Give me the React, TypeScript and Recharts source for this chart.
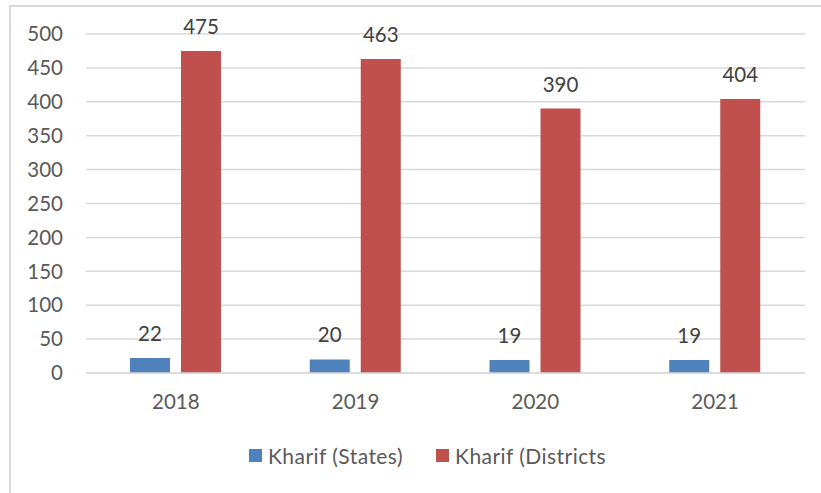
import { BarChart, Bar, XAxis, YAxis, CartesianGrid, Legend, LabelList } from "recharts";

const years = ["2018", "2019", "2020", "2021"];
const states = [22, 20, 19, 19];
const districts = [475, 463, 390, 404];
const yTicks = [0, 50, 100, 150, 200, 250, 300, 350, 400, 450, 500];
const seriesNames = ["Kharif (States)", "Kharif (Districts"];
const seriesColors = ["#4f81bd", "#c0504d"];

const data = years.map((year, i) => ({
  year,
  states: states[i],
  districts: districts[i],
}));

const font = "Lato, 'Open Sans', sans-serif";

function LegendContent() {
  return (
    <div style={{ display: "flex", alignItems: "center", gap: 33, fontSize: 21, letterSpacing: 0.45, color: "#595959", fontFamily: font }}>
      {seriesNames.map((name, i) => (
        <div key={name} style={{ display: "flex", alignItems: "center", gap: 6 }}>
          <span style={{ width: 13, height: 13, background: seriesColors[i], display: "inline-block" }} />
          {name}
        </div>
      ))}
    </div>
  );
}

export default function App() {
  return (
    <div style={{ position: "absolute", left: 0, top: 0, width: 821, height: 493, background: "#fff", overflow: "hidden", fontFamily: font }}>
      {/* frame, right and bottom edges are cut off in the original */}
      <div
        style={{
          position: "absolute",
          left: 9,
          top: 5,
          width: 830,
          height: 500,
          borderTop: "2px solid #d9d9d9",
          borderLeft: "2px solid #d9d9d9",
        }}
      />
      <BarChart
        width={821}
        height={493}
        data={data}
        margin={{ top: 34, right: 16, left: 0, bottom: 23 }}
        barSize={40}
        barGap={11}
      >
        <CartesianGrid vertical={false} stroke="#d9d9d9" strokeWidth={1.5} />
        <XAxis
          dataKey="year"
          axisLine={{ stroke: "#d9d9d9", strokeWidth: 1.5 }}
          tickLine={false}
          tickSize={0}
          tickMargin={21}
          height={72}
          tick={{ fill: "#595959", fontSize: 20.5, fontFamily: font }}
        />
        <YAxis
          domain={[0, 500]}
          ticks={yTicks}
          axisLine={false}
          tickLine={false}
          tickSize={0}
          tickMargin={23}
          width={86}
          interval={0}
          tick={{ fill: "#595959", fontSize: 20.5, fontFamily: font }}
        />
        <Legend
          verticalAlign="bottom"
          content={<LegendContent />}
          wrapperStyle={{ left: 249, top: 443, width: "auto" }}
        />
        <Bar dataKey="states" name={seriesNames[0]} fill={seriesColors[0]} isAnimationActive={false}>
          <LabelList dataKey="states" position="top" offset={17} fill="#404040" fontSize={20.5} fontFamily={font} />
        </Bar>
        <Bar dataKey="districts" name={seriesNames[1]} fill={seriesColors[1]} isAnimationActive={false}>
          <LabelList dataKey="districts" position="top" offset={17} fill="#404040" fontSize={20.5} fontFamily={font} />
        </Bar>
      </BarChart>
    </div>
  );
}
